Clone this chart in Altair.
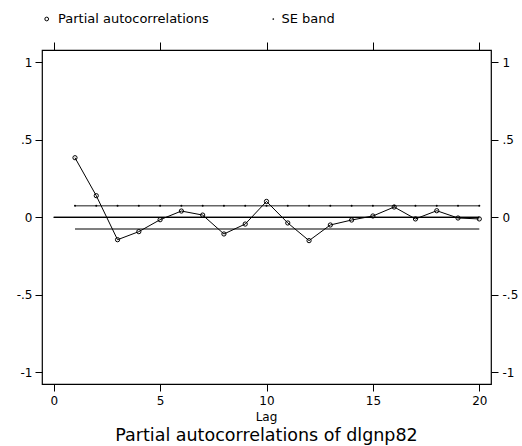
import altair as alt
import pandas as pd

lags = list(range(1, 21))
pac = [0.385, 0.140, -0.144, -0.092, -0.015, 0.041, 0.015, -0.107, -0.043, 0.103,
       -0.036, -0.150, -0.049, -0.017, 0.009, 0.067, -0.010, 0.043, -0.004, -0.010]
se_upper = [0.075, 0.075, 0.075, 0.075, 0.075, 0.075, 0.075, 0.075, 0.075, 0.075,
            0.075, 0.075, 0.075, 0.075, 0.075, 0.075, 0.075, 0.075, 0.075, 0.075]
se_lower = [-0.075, -0.075, -0.075, -0.075, -0.075, -0.075, -0.075, -0.075, -0.075, -0.075,
            -0.075, -0.075, -0.075, -0.075, -0.075, -0.075, -0.075, -0.075, -0.075, -0.075]
zero_lag = [0, 20]
zero_val = [0, 0]
x_ticks = [0, 5, 10, 15, 20]
y_ticks = [-1, -0.5, 0, 0.5, 1]
legend_labels = ["Partial autocorrelations", "SE band"]
x_title = "Lag"
main_title = "Partial autocorrelations of dlgnp82"

FONT = "DejaVu Sans"

df_pac = pd.DataFrame({"lag": lags, "pac": pac})
df_band = pd.DataFrame({"lag": lags, "upper": se_upper, "lower": se_lower})
df_zero = pd.DataFrame({"lag": zero_lag, "val": zero_val})

xscale = alt.Scale(domain=[-0.55, 20.55], nice=False, zero=False)
yscale = alt.Scale(domain=[-1.075, 1.08], nice=False, zero=False)

ylabel_expr = ("datum.value == 1 ? '1' : datum.value == 0.5 ? '.5' : datum.value == 0 ? '0' : "
               "datum.value == -0.5 ? '-.5' : '-1'")

ax_bottom = alt.Axis(orient="bottom", values=x_ticks, title=None, grid=False, domain=False,
                     tickSize=7, tickColor="black", labelFont=FONT, labelFontSize=12,
                     labelColor="black", labelPadding=4, labelFlush=False)
ax_top = alt.Axis(orient="top", values=x_ticks, title=None, grid=False, domain=False,
                  tickSize=8, tickColor="black", labels=False)
ax_left = alt.Axis(orient="left", values=y_ticks, title=None, grid=False, domain=False,
                   tickSize=7, tickColor="black", labelFont=FONT, labelFontSize=12,
                   labelColor="black", labelPadding=3, labelExpr=ylabel_expr)
ax_right = alt.Axis(orient="right", values=y_ticks, title=None, grid=False, domain=False,
                    tickSize=7, tickColor="black", labelFont=FONT, labelFontSize=12,
                    labelColor="black", labelPadding=4, labelExpr=ylabel_expr)

zero_line = alt.Chart(df_zero).mark_line(color="black", strokeWidth=1.2).encode(
    x=alt.X("lag:Q", scale=xscale, axis=ax_bottom),
    y=alt.Y("val:Q", scale=yscale, axis=ax_left),
)
zero_line2 = alt.Chart(df_zero).mark_line(color="black", strokeWidth=1.2).encode(
    x=alt.X("lag:Q", scale=xscale, axis=ax_top),
    y=alt.Y("val:Q", scale=yscale, axis=ax_right),
)

upper_line = alt.Chart(df_band).mark_line(color="#666666", strokeWidth=1.5).encode(
    x=alt.X("lag:Q", scale=xscale, axis=None),
    y=alt.Y("upper:Q", scale=yscale, axis=None),
)
upper_pts = alt.Chart(df_band).mark_point(filled=True, color="black", size=4, opacity=1).encode(
    x=alt.X("lag:Q", scale=xscale, axis=None),
    y=alt.Y("upper:Q", scale=yscale, axis=None),
)
lower_line = alt.Chart(df_band).mark_line(color="black", strokeWidth=1.2).encode(
    x=alt.X("lag:Q", scale=xscale, axis=None),
    y=alt.Y("lower:Q", scale=yscale, axis=None),
)

pac_line = alt.Chart(df_pac).mark_line(color="black", strokeWidth=1).encode(
    x=alt.X("lag:Q", scale=xscale, axis=None),
    y=alt.Y("pac:Q", scale=yscale, axis=None),
)
pac_pts = alt.Chart(df_pac).mark_point(shape="circle", filled=False, color="black",
                                       size=18, strokeWidth=1, opacity=1).encode(
    x=alt.X("lag:Q", scale=xscale, axis=None),
    y=alt.Y("pac:Q", scale=yscale, axis=None),
)

one = pd.DataFrame({"a": [0]})

leg_c1 = alt.Chart(one).mark_point(shape="circle", filled=False, color="black", size=14,
                                   strokeWidth=1, opacity=1).encode(
    x=alt.value(4.7), y=alt.value(-31))
leg_t1 = alt.Chart(one).mark_text(text=legend_labels[0], font=FONT, fontSize=13, align="left",
                                  baseline="alphabetic", color="black").encode(
    x=alt.value(16), y=alt.value(-27.5))
leg_c2 = alt.Chart(one).mark_point(shape="circle", filled=True, color="black", size=3,
                                   opacity=1).encode(
    x=alt.value(231.3), y=alt.value(-31))
leg_t2 = alt.Chart(one).mark_text(text=legend_labels[1], font=FONT, fontSize=13, align="left",
                                  baseline="alphabetic", color="black").encode(
    x=alt.value(239.5), y=alt.value(-27.5))

lag_t = alt.Chart(one).mark_text(text=x_title, font=FONT, fontSize=12, align="center",
                                 baseline="alphabetic", color="black").encode(
    x=alt.value(224.5), y=alt.value(370.5))
title_t = alt.Chart(one).mark_text(text=main_title, font=FONT, fontSize=17.5, align="center",
                                   baseline="alphabetic", color="black").encode(
    x=alt.value(224.5), y=alt.value(391))

chart = alt.layer(
    zero_line, zero_line2, upper_line, upper_pts, lower_line, pac_line, pac_pts,
    leg_c1, leg_t1, leg_c2, leg_t2, lag_t, title_t,
).resolve_axis(x="independent", y="independent").properties(
    width=449, height=334,
    autosize=alt.AutoSizeParams(type="none"),
    padding={"left": 42, "top": 50, "right": 31, "bottom": 62},
    background="white",
).configure_view(stroke="black", strokeWidth=1.2)

chart.save("out.html", embed_options={"renderer": "svg", "actions": False})
